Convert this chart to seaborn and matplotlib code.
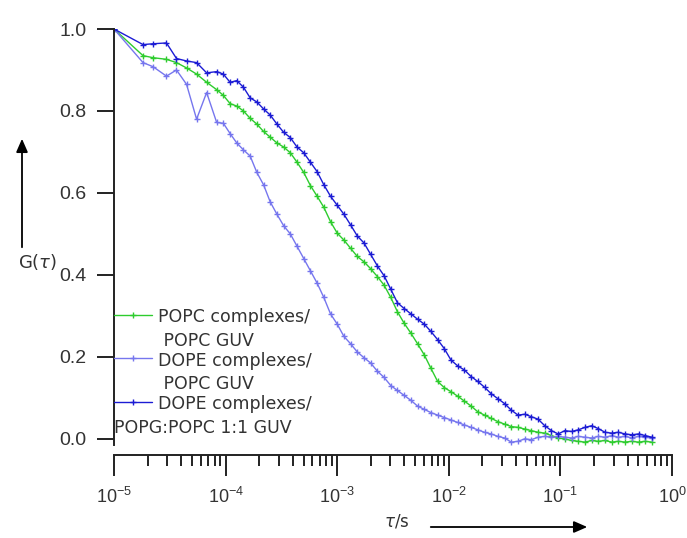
import numpy as np
import pandas as pd
import matplotlib
matplotlib.use("Agg")
import matplotlib.pyplot as plt
import seaborn as sns

# lag times as log10(tau / s)
LOG_TAU = [
    -5.00, -4.74, -4.65, -4.53, -4.44, -4.35, -4.26, -4.17,
    -4.08, -4.02, -3.96, -3.90, -3.84, -3.78, -3.72, -3.66, -3.60, -3.54,
    -3.48, -3.42, -3.36, -3.30, -3.24, -3.18, -3.12, -3.06, -3.00, -2.94,
    -2.88, -2.82, -2.76, -2.70, -2.64, -2.58, -2.52, -2.46, -2.40, -2.34,
    -2.28, -2.22, -2.16, -2.10, -2.04, -1.98, -1.92, -1.86, -1.80, -1.74,
    -1.68, -1.62, -1.56, -1.50, -1.44, -1.38, -1.32, -1.26, -1.20, -1.14,
    -1.08, -1.02, -0.96, -0.90, -0.84, -0.78, -0.72, -0.66, -0.60, -0.54,
    -0.48, -0.42, -0.36, -0.30, -0.24, -0.18,
]

# G(tau), POPC complexes / POPC GUV
G_POPC = [
    1.000, 0.935, 0.930, 0.926, 0.918, 0.905, 0.890, 0.870,
    0.852, 0.838, 0.818, 0.812, 0.800, 0.782, 0.768, 0.750, 0.736, 0.722,
    0.712, 0.698, 0.675, 0.650, 0.618, 0.592, 0.565, 0.530, 0.502, 0.485,
    0.465, 0.445, 0.432, 0.415, 0.396, 0.375, 0.345, 0.310, 0.282, 0.258,
    0.232, 0.205, 0.172, 0.140, 0.125, 0.115, 0.104, 0.092, 0.080, 0.066,
    0.058, 0.050, 0.042, 0.036, 0.030, 0.028, 0.024, 0.020, 0.016, 0.014,
    0.008, 0.002, 0.000, -0.004, -0.006, -0.008, -0.004, -0.006, -0.004, -0.008,
    -0.006, -0.008, -0.006, -0.008, -0.006, -0.008,
]

# G(tau), DOPE complexes / POPC GUV
G_DOPE_POPC = [
    1.000, 0.918, 0.908, 0.885, 0.900, 0.865, 0.780, 0.845,
    0.772, 0.770, 0.745, 0.722, 0.705, 0.690, 0.650, 0.620, 0.578, 0.548,
    0.520, 0.500, 0.470, 0.440, 0.410, 0.380, 0.345, 0.305, 0.280, 0.250,
    0.232, 0.212, 0.198, 0.185, 0.165, 0.150, 0.130, 0.118, 0.106, 0.094,
    0.080, 0.072, 0.064, 0.058, 0.052, 0.046, 0.040, 0.034, 0.028, 0.022,
    0.016, 0.012, 0.006, 0.002, -0.008, -0.006, 0.000, -0.002, 0.004, 0.006,
    0.004, 0.006, 0.004, 0.002, 0.006, 0.004, 0.002, 0.006, 0.004, 0.008,
    0.004, 0.006, 0.002, 0.006, 0.004, 0.002,
]

# G(tau), DOPE complexes / POPG:POPC 1:1 GUV
G_DOPE_POPG = [
    1.000, 0.962, 0.964, 0.966, 0.928, 0.922, 0.918, 0.893,
    0.896, 0.890, 0.870, 0.874, 0.858, 0.832, 0.822, 0.805, 0.790, 0.768,
    0.748, 0.735, 0.712, 0.698, 0.675, 0.652, 0.620, 0.592, 0.570, 0.548,
    0.522, 0.495, 0.478, 0.450, 0.422, 0.398, 0.365, 0.332, 0.318, 0.305,
    0.292, 0.280, 0.262, 0.242, 0.220, 0.192, 0.178, 0.168, 0.152, 0.140,
    0.126, 0.110, 0.098, 0.086, 0.070, 0.058, 0.060, 0.054, 0.048, 0.032,
    0.020, 0.012, 0.020, 0.018, 0.022, 0.028, 0.032, 0.025, 0.016, 0.014,
    0.016, 0.012, 0.010, 0.012, 0.008, 0.004,
]

LABELS = [
    "POPC complexes/\n POPC GUV",
    "DOPE complexes/\n POPC GUV",
    "        DOPE complexes/\nPOPG:POPC 1:1 GUV",
]
COLORS = ["#2ecc2e", "#7676ee", "#1c1cd4"]

Y_TICKS = [0.0, 0.2, 0.4, 0.6, 0.8, 1.0]
X_TICK_EXP = [-5, -4, -3, -2, -1, 0]

tau = 10.0 ** np.array(LOG_TAU)
frames = []
for lab, g in zip(LABELS, [G_POPC, G_DOPE_POPC, G_DOPE_POPG]):
    frames.append(pd.DataFrame({"tau": tau, "G": g, "sample": lab}))
df = pd.concat(frames, ignore_index=True)

sns.set_style("ticks")
plt.rcParams["font.family"] = ["DejaVu Sans"]

fig = plt.figure(figsize=(6.87, 5.38), dpi=100)
ax = fig.add_axes([114 / 687, 1 - 445 / 538, 558 / 687, 416 / 538])

sns.lineplot(data=df, x="tau", y="G", hue="sample", hue_order=LABELS,
             palette=dict(zip(LABELS, COLORS)), estimator=None, sort=False,
             marker="+", markersize=5, markeredgewidth=1.0, linewidth=1.0,
             ax=ax)
# seaborn paints marker edges white; give them the line colour
for ln in ax.lines:
    ln.set_markeredgecolor(ln.get_color())

ax.set_xscale("log")
ax.set_xlim(1e-5, 1.0)
ax.set_ylim(-0.015, 1.0)

ax.set_yticks(Y_TICKS)
ax.set_yticklabels([f"{v:.1f}" for v in Y_TICKS])
ax.set_xticks([10.0 ** e for e in X_TICK_EXP])
ax.set_xticklabels([rf"$\mathregular{{10^{{{e}}}}}$" for e in X_TICK_EXP])
ax.xaxis.set_minor_locator(matplotlib.ticker.LogLocator(base=10, subs=np.arange(2, 10)))
ax.xaxis.set_minor_formatter(matplotlib.ticker.NullFormatter())

ax.tick_params(axis="y", labelsize=14, labelcolor="#333333",
               labelfontfamily="Liberation Sans")
ax.tick_params(axis="x", labelsize=13, labelcolor="#333333",
               labelfontfamily="Liberation Sans")
ax.tick_params(axis="y", which="major", length=12, width=1.4, pad=8, color="#222222")
ax.tick_params(axis="x", which="major", length=15, width=1.4, pad=8, color="#222222")
ax.tick_params(axis="x", which="minor", length=8, width=1.4, color="#222222")

sns.despine(ax=ax)
ax.spines["bottom"].set_position(("outward", 7.2))
for s in ["left", "bottom"]:
    ax.spines[s].set_linewidth(1.4)
    ax.spines[s].set_color("#222222")
ax.set_xlabel("")
ax.set_ylabel("")

handles, labels = ax.get_legend_handles_labels()
for h in handles:
    h.set_markeredgecolor(h.get_color())
leg = ax.legend(handles, labels, loc="lower left", bbox_to_anchor=(0.0, 0.02),
                frameon=False, handlelength=2.2, handletextpad=0.35,
                borderpad=0.0, borderaxespad=0.0, labelspacing=0.1,
                prop={"family": "DejaVu Sans", "size": 12.5})
for t in leg.get_texts():
    t.set_color("#333333")
    t.set_linespacing(1.4)

# the last label's second line hangs out to the left, as in the original
fig.canvas.draw()
rend = fig.canvas.get_renderer()
widths = []
for s in ["        DOPE complexes/", "DOPE complexes/"]:
    tmp = fig.text(0, 0, s, fontsize=12.5, family="DejaVu Sans")
    widths.append(tmp.get_window_extent(rend).width)
    tmp.remove()
leg.get_texts()[2].set_position((-(widths[0] - widths[1]), 0))
# handles sit level with the first line of each label
for ln in leg.get_lines():
    ln.set_ydata(np.asarray(ln.get_ydata()) + 11)

# axis titles with arrows
fig.text(38 / 687, 1 - 262 / 538, r"G($\tau$)", fontsize=13, color="#333333",
         ha="center", va="center")
fig.text(397 / 687, 1 - 522 / 538, r"$\tau$/s", fontsize=12, color="#333333",
         ha="center", va="center")
fig.patches.append(matplotlib.patches.FancyArrowPatch(
    (22 / 687, 1 - 250 / 538), (22 / 687, 1 - 136 / 538), transform=fig.transFigure,
    arrowstyle="-|>,head_length=8,head_width=3.5", color="black", lw=1.3))
fig.patches.append(matplotlib.patches.FancyArrowPatch(
    (428 / 687, 1 - 527 / 538), (590 / 687, 1 - 527 / 538), transform=fig.transFigure,
    arrowstyle="-|>,head_length=8,head_width=3.5", color="black", lw=1.3))

fig.savefig("out.png", dpi=100)
